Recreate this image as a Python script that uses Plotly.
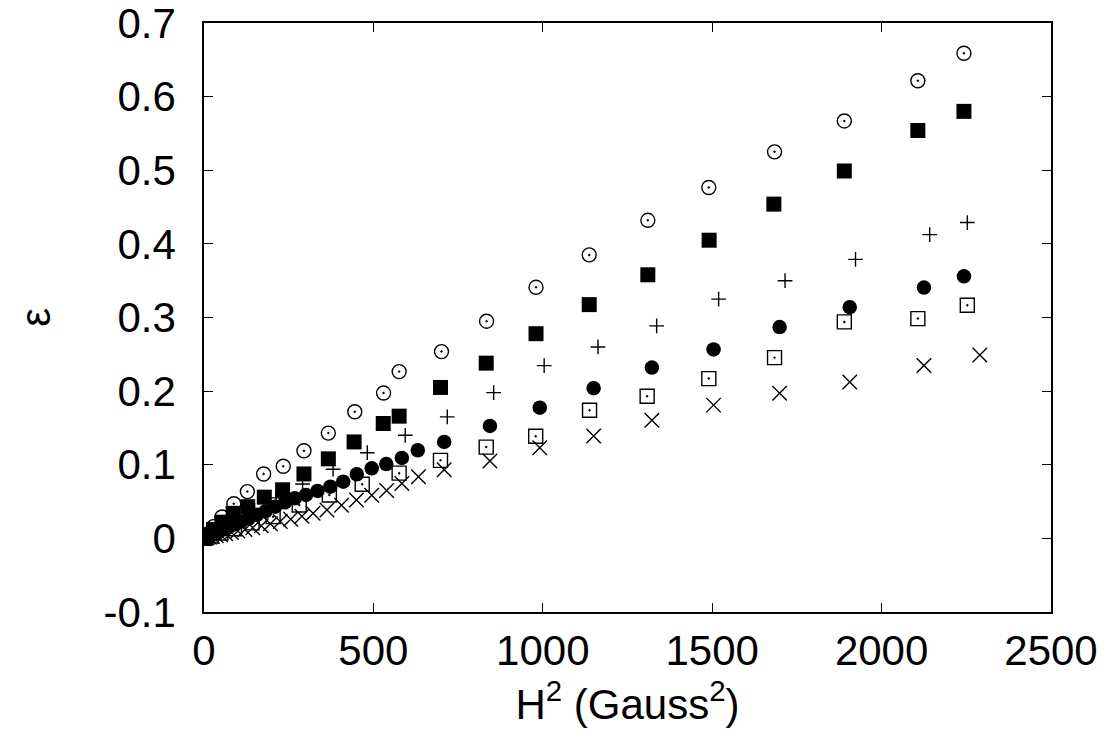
import plotly.graph_objects as go

# ---- data ----
circ_open_x = [2243, 2107, 1890, 1684, 1490, 1310, 1137, 980, 834, 701, 576, 530, 445, 367, 295, 234, 176, 128, 88, 53, 28, 11, 2, 0]
circ_open_y = [0.659, 0.6215, 0.567, 0.525, 0.4765, 0.432, 0.385, 0.341, 0.295, 0.2537, 0.2265, 0.1975, 0.172, 0.143, 0.119, 0.098, 0.0875, 0.0635, 0.047, 0.029, 0.016, 0.006, 0.001, 0.0]

sq_fill_x = [2243, 2107, 1890, 1682, 1491, 1310, 1137, 980, 833, 698, 576, 529, 443, 367, 295, 232, 178, 129, 86, 53, 28, 11, 2, 0]
sq_fill_y = [0.580, 0.554, 0.499, 0.454, 0.405, 0.358, 0.3175, 0.278, 0.238, 0.205, 0.166, 0.156, 0.131, 0.108, 0.0875, 0.066, 0.056, 0.043, 0.034, 0.022, 0.012, 0.005, 0.001, 0.0]

plus_x = [2253, 2142, 1923, 1715, 1519, 1336, 1163, 1004, 855, 718, 594, 482, 381, 291, 213, 149, 95, 53, 24, 6, 0]
plus_y = [0.429, 0.4126, 0.379, 0.350, 0.325, 0.2886, 0.260, 0.2346, 0.198, 0.165, 0.140, 0.1164, 0.0939, 0.0739, 0.055, 0.038, 0.025, 0.014, 0.006, 0.0015, 0.0]

circ_fill_x = [2243, 2125, 1906, 1699, 1504, 1322, 1150, 991, 844, 709, 631, 584, 538, 495, 451, 411, 373, 335, 301, 268, 239, 210, 182, 156, 132, 110, 90, 72, 56, 42, 30, 20, 12, 6, 2, 0]
circ_fill_y = [0.356, 0.3406, 0.314, 0.287, 0.2567, 0.232, 0.204, 0.1775, 0.1527, 0.131, 0.1197, 0.1092, 0.101, 0.0952, 0.0871, 0.077, 0.0702, 0.0644, 0.059, 0.0545, 0.049, 0.043, 0.037, 0.032, 0.027, 0.023, 0.019, 0.015, 0.012, 0.009, 0.006, 0.004, 0.0025, 0.0012, 0.0004, 0.0]

sq_open_x = [2253, 2107, 1890, 1684, 1490, 1308, 1138, 979, 833, 698, 576, 467, 370, 281, 204, 142, 90, 50, 22, 5, 0]
sq_open_y = [0.3167, 0.2985, 0.294, 0.2455, 0.217, 0.193, 0.174, 0.1387, 0.124, 0.106, 0.0886, 0.0736, 0.059, 0.0454, 0.0295, 0.021, 0.013, 0.0073, 0.0032, 0.0007, 0.0]

cross_x = [2290, 2125, 1906, 1699, 1504, 1322, 1150, 991, 844, 709, 633, 584, 539, 495, 450, 406, 363, 322, 289, 256, 225, 196, 169, 144, 121, 100, 81, 64, 49, 36, 25, 16, 9, 4, 1, 0]
cross_y = [0.249, 0.2347, 0.2125, 0.197, 0.181, 0.1605, 0.139, 0.1232, 0.105, 0.0933, 0.0838, 0.0746, 0.065, 0.0585, 0.052, 0.045, 0.0386, 0.034, 0.030, 0.026, 0.023, 0.020, 0.017, 0.0145, 0.012, 0.010, 0.008, 0.0064, 0.005, 0.0036, 0.0025, 0.0016, 0.001, 0.0004, 0.0001, 0.0]

x_tickvals = [0, 500, 1000, 1500, 2000, 2500]
x_ticktext = ["0", "500", "1000", "1500", "2000", "2500"]
y_tickvals = [-0.1, 0.0, 0.1, 0.2, 0.3, 0.4, 0.5, 0.6, 0.7]
y_ticktext = ["-0.1", "0", "0.1", "0.2", "0.3", "0.4", "0.5", "0.6", "0.7"]

FONT = "Liberation Sans, Arial, Helvetica, sans-serif"

fig = go.Figure()

def add(x, y, symbol, size, lw):
    fig.add_trace(go.Scatter(
        x=x, y=y, mode="markers", showlegend=False,
        marker=dict(symbol=symbol, size=size, color="black",
                    line=dict(color="black", width=lw)),
        hoverinfo="skip"))

add(circ_open_x, circ_open_y, "circle-open-dot", 14, 1.4)
add(sq_fill_x, sq_fill_y, "square", 15, 0)
add(plus_x, plus_y, "cross-thin-open", 10.5, 1.4)
add(circ_fill_x, circ_fill_y, "circle", 14.5, 0)
add(sq_open_x, sq_open_y, "square-open-dot", 14, 1.4)
add(cross_x, cross_y, "x-thin-open", 14.5, 1.4)

axis_common = dict(
    showgrid=False, zeroline=False, showline=True, linecolor="black", linewidth=1.5,
    mirror="ticks", ticks="inside", ticklen=9, tickwidth=1.3, tickcolor="black",
    automargin=False, ticklabeloverflow="allow",
    tickfont=dict(family=FONT, size=42, color="black"),
)

# page body has an 8px default margin, so the figure is sized to fit the window
fig.update_layout(
    width=1099, height=743,
    margin=dict(l=196, r=56, t=15, b=139),
    paper_bgcolor="white", plot_bgcolor="white",
    font=dict(family=FONT, color="black"),
    xaxis=dict(range=[0, 2500], tickmode="array", tickvals=x_tickvals, ticktext=x_ticktext,
               ticklabelstandoff=1,
               title=dict(text="H<sup>2</sup> (Gauss<sup>2</sup>)", font=dict(family=FONT, size=42), standoff=10),
               **axis_common),
    yaxis=dict(range=[-0.1, 0.70001], tickmode="array", tickvals=y_tickvals, ticktext=y_ticktext,
               ticklabelstandoff=18,
               title=dict(text="ε", font=dict(family=FONT, size=42), standoff=40),
               **axis_common),
)

fig.write_html("out.html")
